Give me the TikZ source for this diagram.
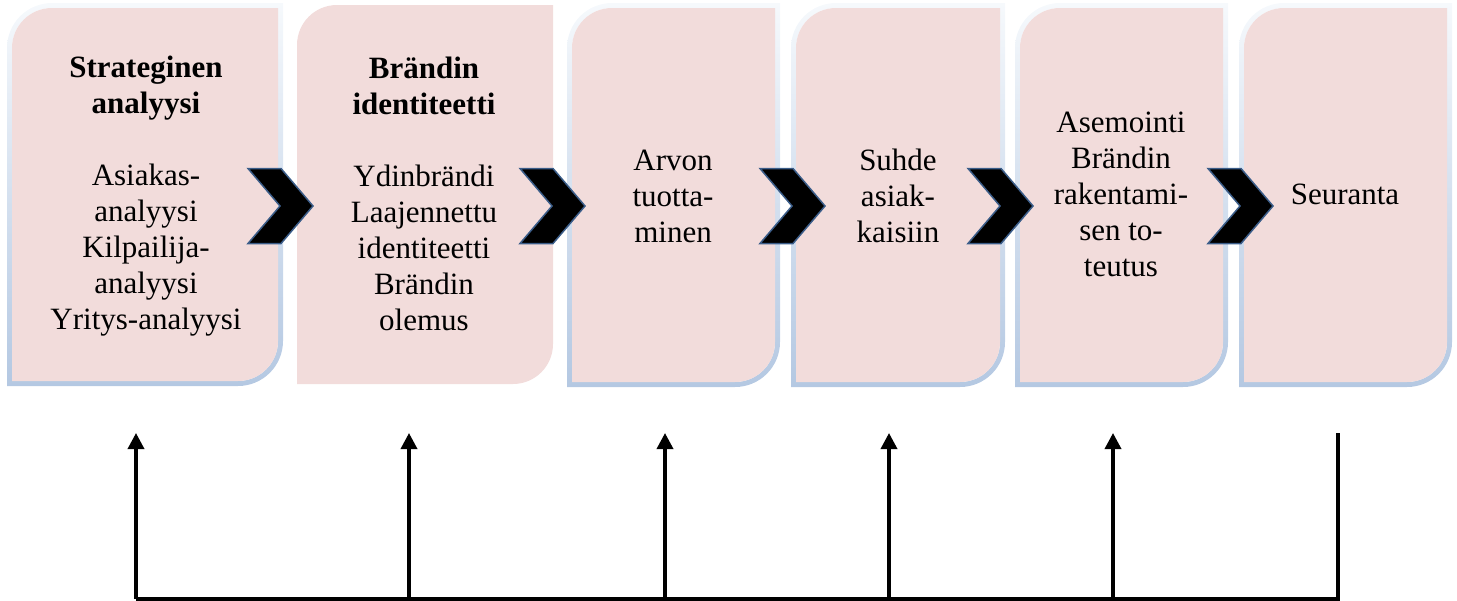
\documentclass[tikz,border=0pt]{standalone}
\usepackage{fontspec}
\setmainfont{Liberation Serif}
\usetikzlibrary{arrows.meta}

\definecolor{tabfill}{HTML}{F2DCDB}
\definecolor{rimtop}{HTML}{F6F9FC}
\definecolor{rimbot}{HTML}{B4C8E2}
\definecolor{chevedge}{HTML}{3B5D89}

% stage card: top-left and bottom-right corners rounded, with a shaded rim
\newcommand\rimcard[4]{% x1 y1 x2 y2 of the filled area
  \shade[even odd rule, top color=rimtop, bottom color=rimbot]
    ({#1-5},{(#2+#4)/2}) [rounded corners=45pt] -- ({#1-5},{#2-5}) -- ({#1+100},{#2-5})
    [sharp corners] -- ({#3+5},{#2-5}) -- ({#3+5},{(#2+#4)/2})
    [rounded corners=45pt] -- ({#3+5},{#4+5}) -- ({#3-100},{#4+5})
    [sharp corners] -- ({#1-5},{#4+5}) -- cycle
    ({#1},{(#2+#4)/2}) [rounded corners=40pt] -- ({#1},{#2}) -- ({#1+100},{#2})
    [sharp corners] -- ({#3},{#2}) -- ({#3},{(#2+#4)/2})
    [rounded corners=40pt] -- ({#3},{#4}) -- ({#3-100},{#4})
    [sharp corners] -- ({#1},{#4}) -- cycle;
  \plaincard{#1}{#2}{#3}{#4}}
% the same card without a rim
\newcommand\plaincard[4]{%
  \fill[tabfill]
    ({#1},{(#2+#4)/2}) [rounded corners=40pt] -- ({#1},{#2}) -- ({#1+100},{#2})
    [sharp corners] -- ({#3},{#2}) -- ({#3},{(#2+#4)/2})
    [rounded corners=40pt] -- ({#3},{#4}) -- ({#3-100},{#4})
    [sharp corners] -- ({#1},{#4}) -- cycle;}
% chevron between two cards, left edge at x
\newcommand\chevron[1]{%
  \filldraw[chevron]
    ({#1},168.5) -- ({#1+33},168.5) -- ({#1+65},206) -- ({#1+33},243.5)
    -- ({#1},243.5) -- ({#1+32},206) -- cycle;}

\tikzset{
  chevron/.style={fill=black, draw=chevedge, line width=1.5pt, line join=miter},
  lbl/.style={font=\fontsize{31}{36}\selectfont, align=center, inner sep=0pt},
  feedline/.style={line width=3.5pt},
  feedarrow/.style={line width=3.5pt, -{Triangle[length=16pt,width=16pt]}},
}

\begin{document}
\begin{tikzpicture}[x=1pt, y=-1pt]
\useasboundingbox (0,0) rectangle (1457,600);

% stage cards
\rimcard{12}{8}{278}{381}
\plaincard{297}{5}{553}{384}
\rimcard{572}{8}{775}{382}
\rimcard{796}{8}{1000}{382}
\rimcard{1020}{8}{1223}{382}
\rimcard{1244}{8}{1447}{382}

% chevrons
\chevron{248}
\chevron{520}
\chevron{760}
\chevron{968}
\chevron{1208}

% stage texts
\node[lbl] (s1) at (146,196) {\textbf{Strateginen}\\\textbf{analyysi}\\[36pt]Asiakas-\\analyysi\\Kilpailija-\\analyysi\\Yritys-analyysi};
\node[lbl] (s2) at (424,194) {\textbf{Brändin}\\\textbf{identiteetti}\\[36pt]Ydinbrändi\\Laajennettu\\identiteetti\\Brändin\\olemus};
\node[lbl] (s3) at (673,196) {Arvon\\tuotta-\\minen};
\node[lbl] (s4) at (898,196) {Suhde\\asiak-\\kaisiin};
\node[lbl] (s5) at (1121,194) {Asemointi\\Brändin\\rakentami-\\sen to-\\teutus};
\node[lbl] (s6) at (1345,194) {Seuranta};

% feedback loop
\coordinate (f1) at (136,599);
\coordinate (f2) at (409,599);
\coordinate (f3) at (665,599);
\coordinate (f4) at (889,599);
\coordinate (f5) at (1113,599);
\coordinate (f6) at (1338,599);
\coordinate (t1) at (136,433);
\coordinate (t2) at (409,433);
\coordinate (t3) at (665,433);
\coordinate (t4) at (889,433);
\coordinate (t5) at (1113,433);
\coordinate (t6) at (1338,433);

\draw[feedline] (t6) -- (f6) -- (f1);
\foreach \k in {1,...,5}
  \draw[feedarrow] (f\k) -- (t\k);
\end{tikzpicture}
\end{document}
